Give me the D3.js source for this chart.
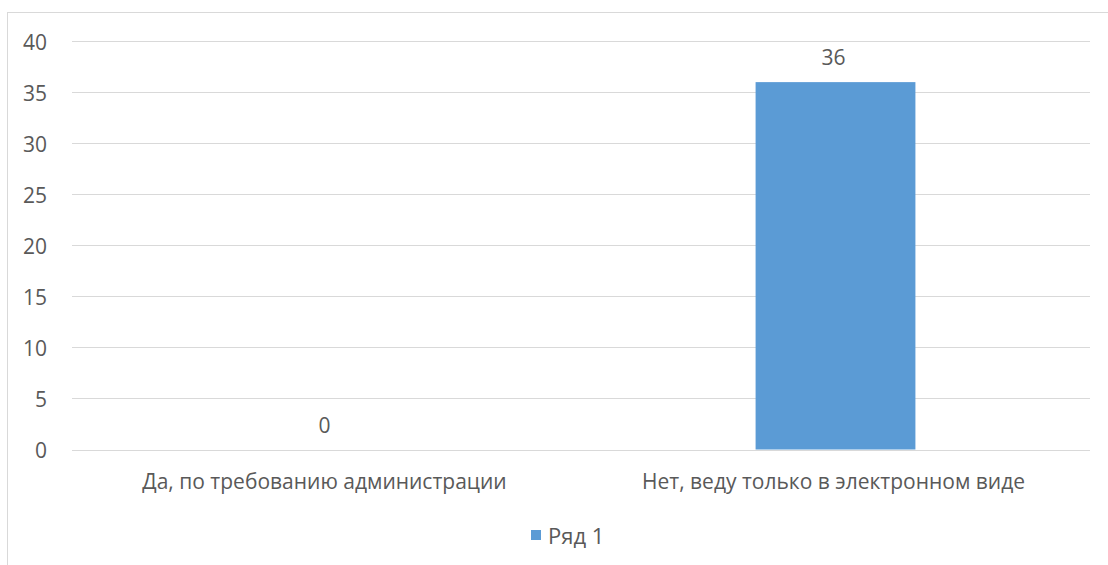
<!DOCTYPE html>
<html><head><meta charset="utf-8">
<script src="https://cdn.jsdelivr.net/npm/d3@7"></script>
<style>
html,body{margin:0;padding:0;background:#fff;}
svg text{font-family:"Open Sans",sans-serif;fill:#595959;}
</style></head>
<body>
<svg id="chart" width="1108" height="565"></svg>
<script>
const categories = ["Да, по требованию администрации", "Нет, веду только в электронном виде"];
const values = [0, 36];
const seriesName = "Ряд 1";
const yTicks = [0, 5, 10, 15, 20, 25, 30, 35, 40];

const W = 1108, H = 565;
const FS = "21px";
const svg = d3.select("#chart");
const m = {left: 72, right: 1090, top: 41.3, bottom: 449.5};

// chart border
svg.append("rect").attr("x", 7.5).attr("y", 12.5).attr("width", 1120).attr("height", 600)
  .attr("fill", "none").attr("stroke", "#d9d9d9").attr("stroke-width", 1);

const x = d3.scaleBand().domain(categories).range([m.left, m.right]).padding(0);
const y = d3.scaleLinear().domain([0, 40]).range([m.bottom, m.top]);
const barW = x.bandwidth() * 0.314;

// gridlines
svg.append("g").selectAll("line").data(yTicks).join("line")
  .attr("x1", m.left).attr("x2", m.right)
  .attr("y1", d => Math.round(y(d)) + 0.5).attr("y2", d => Math.round(y(d)) + 0.5)
  .attr("stroke", "#d9d9d9").attr("stroke-width", 1);

// y axis labels
const yAxis = d3.axisLeft(y).tickValues(yTicks).tickSize(0).tickPadding(0);
const gy = svg.append("g").attr("transform", `translate(47,0)`).call(yAxis);
gy.select(".domain").remove();
gy.selectAll("text").attr("dy", null).attr("dominant-baseline", "central")
  .style("font-size", FS).attr("fill", "#595959").style("font-family", "'Open Sans',sans-serif");

// bars
svg.append("g").selectAll("rect").data(values).join("rect")
  .attr("x", (d, i) => x(categories[i]) + x.bandwidth() / 2 - barW / 2)
  .attr("width", barW)
  .attr("y", d => y(d))
  .attr("height", d => y(0) - y(d))
  .attr("fill", "#5b9bd5");

// data labels
svg.append("g").selectAll("text").data(values).join("text")
  .attr("x", (d, i) => x(categories[i]) + x.bandwidth() / 2 - 2)
  .attr("y", d => y(d) - 25)
  .attr("text-anchor", "middle").attr("dominant-baseline", "central")
  .style("font-size", FS)
  .text(d => d);

// category labels
const xAxis = d3.axisBottom(x).tickSize(0).tickPadding(0);
const gx = svg.append("g").attr("transform", `translate(-2,${m.bottom + 31})`).call(xAxis);
gx.select(".domain").remove();
gx.selectAll("text").attr("dy", null).attr("dominant-baseline", "central")
  .style("font-size", FS).attr("fill", "#595959").style("font-family", "'Open Sans',sans-serif");

// legend
const lg = svg.append("g").attr("transform", "translate(531,535)");
lg.append("rect").attr("x", 0).attr("y", -5).attr("width", 10).attr("height", 10).attr("fill", "#5b9bd5");
lg.append("text").attr("x", 17).attr("y", 0).attr("dominant-baseline", "central")
  .style("font-size", "22px").text(seriesName);
</script>
</body></html>
